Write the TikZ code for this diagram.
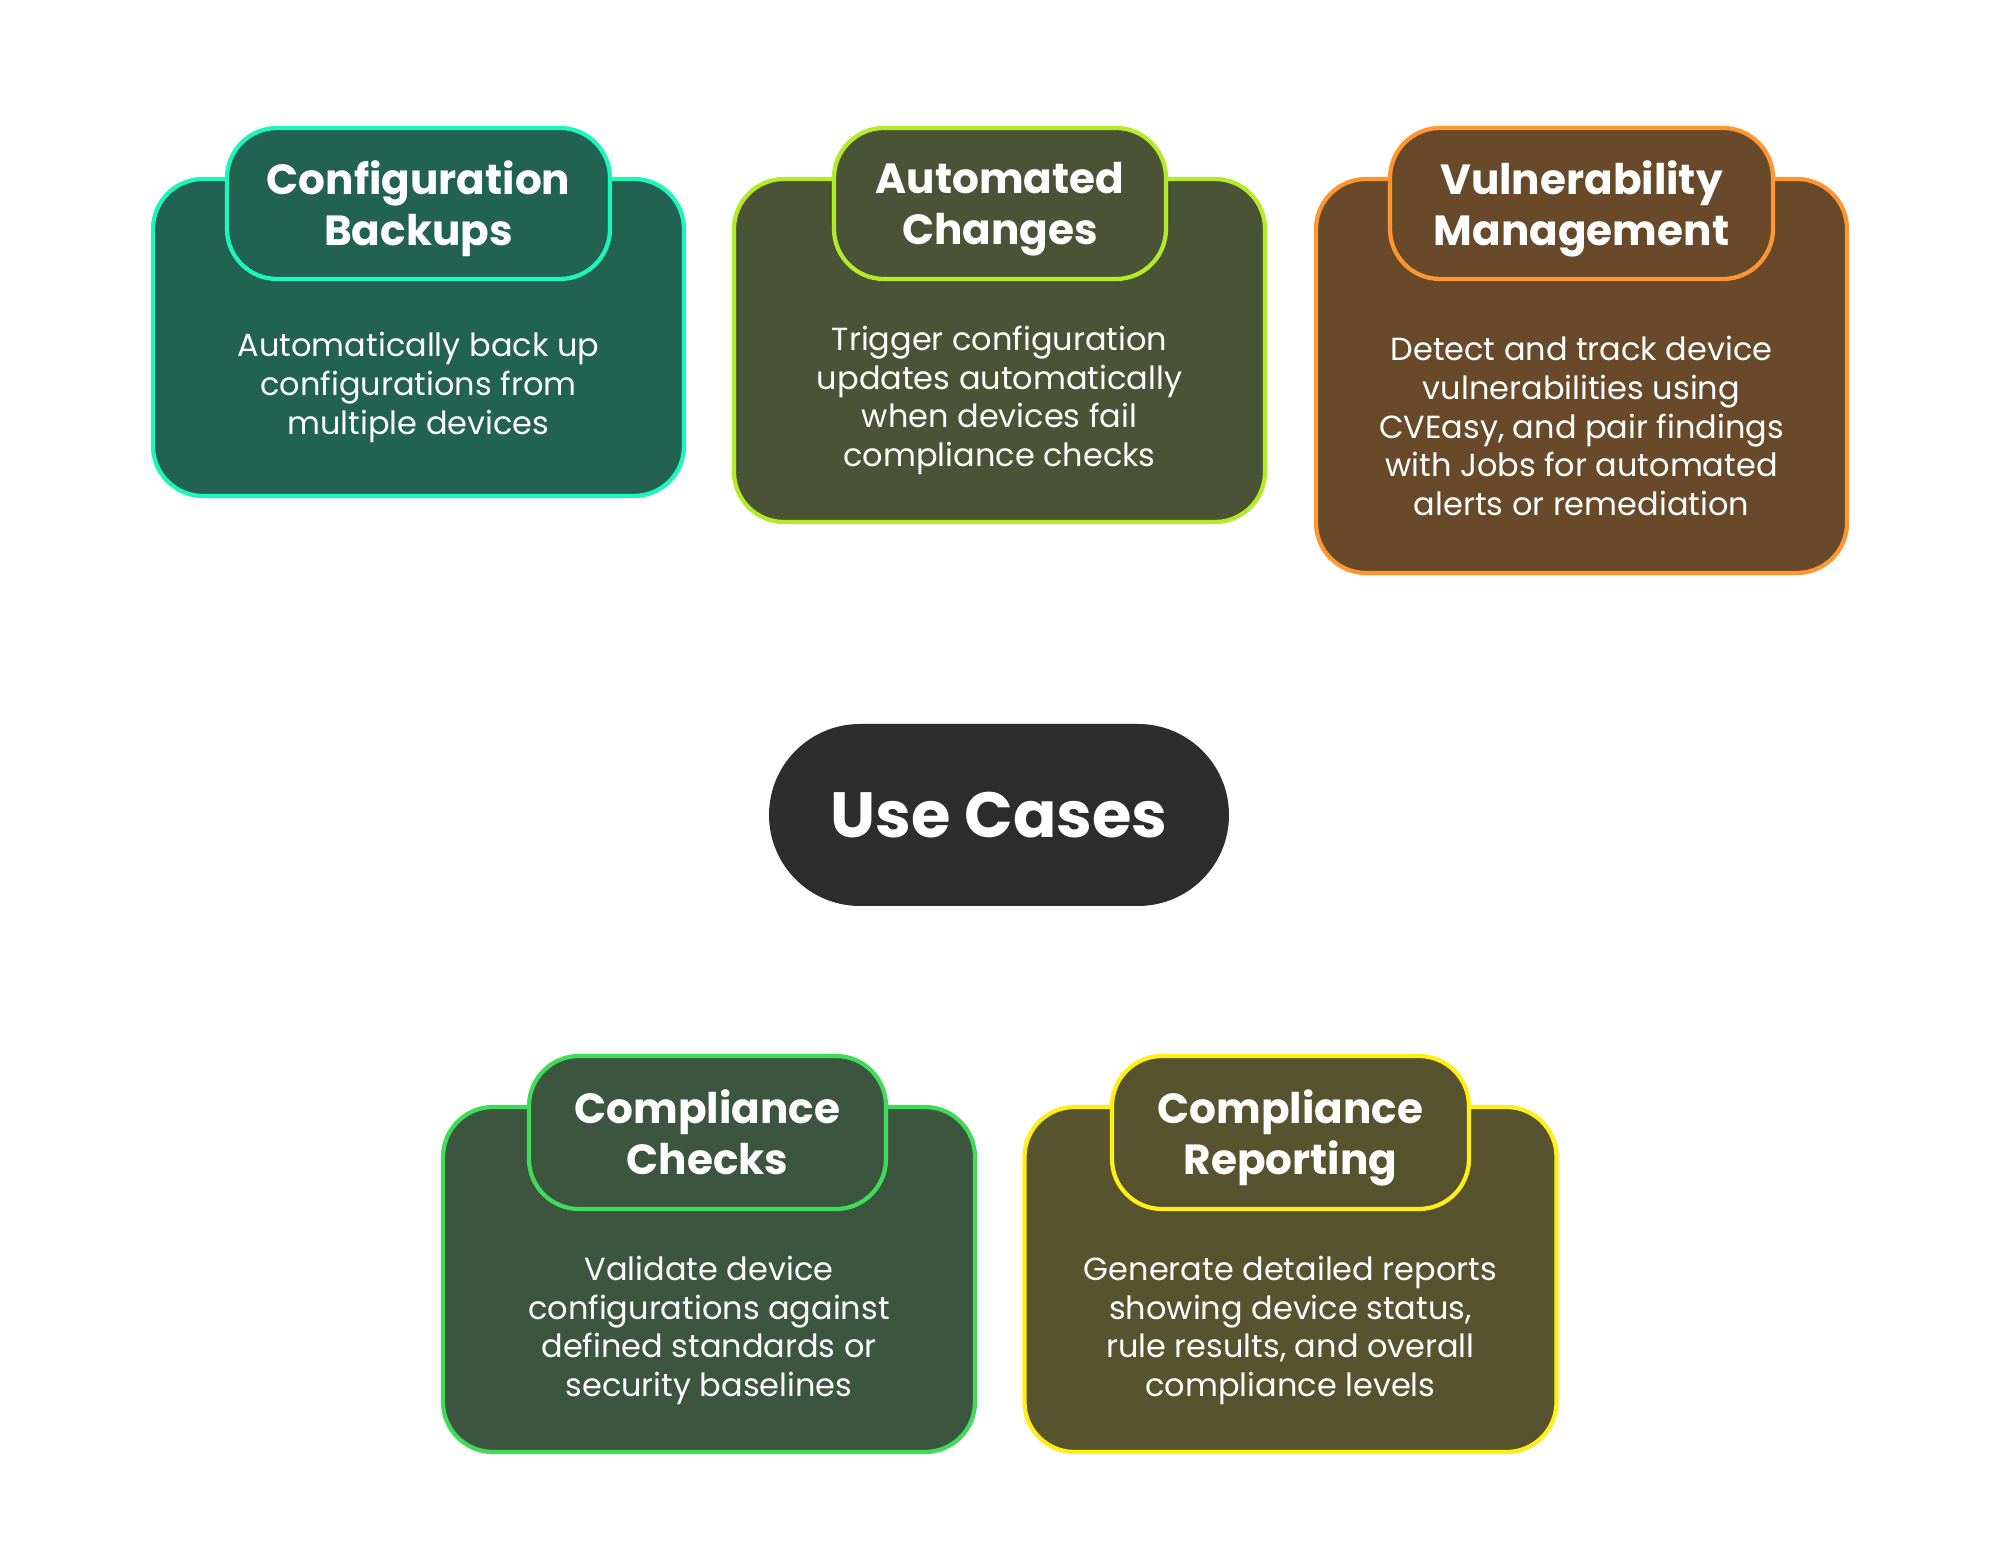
\documentclass[tikz,border=0pt]{standalone}
\usepackage{fontspec}
\setmainfont{Poppins}
\definecolor{backupfill}{HTML}{216350}
\definecolor{backupline}{HTML}{1CF5BC}
\definecolor{changefill}{HTML}{4B5337}
\definecolor{changeline}{HTML}{B2EB28}
\definecolor{vulnfill}{HTML}{684A2B}
\definecolor{vulnline}{HTML}{FF9632}
\definecolor{checkfill}{HTML}{3C553F}
\definecolor{checkline}{HTML}{3FDC5A}
\definecolor{reportfill}{HTML}{57532F}
\definecolor{reportline}{HTML}{FFEF14}
\definecolor{hubfill}{HTML}{2D2D2D}
\usetikzlibrary{positioning}

\begin{document}
\begin{tikzpicture}[
        card/.style={draw, line width=1.2pt, rounded corners=0.5cm, minimum width=5.31cm},
        head/.style={draw, line width=1.2pt, rounded corners=0.5cm, minimum height=1.51cm, align=center, text=white, font=\fontsize{12}{14.5}\selectfont\bfseries, text depth=-1.2pt},
        info/.style={align=center, text=white, font=\fontsize{9.1}{11}\selectfont}
      ]
        \useasboundingbox (0,0) rectangle (20,-15.54);

        % top row
        \node[card, fill=backupfill, draw=backupline, minimum height=3.17cm] (backup) at (4.185,-3.375) {};
        \node[head, fill=backupfill, draw=backupline, minimum width=3.83cm] (backuphead) at (4.185,-2.035) {Configuration\\Backups};
        \node[info] (backuptext) at (4.185,-3.875) {Automatically back up\\configurations from\\multiple devices};

        \node[card, fill=changefill, draw=changeline, minimum height=3.43cm] (change) at (9.995,-3.505) {};
        \node[head, fill=changefill, draw=changeline, minimum width=3.32cm] (changehead) at (10,-2.035) {Automated\\Changes};
        \node[info] (changetext) at (9.995,-4.005) {Trigger configuration\\updates automatically\\when devices fail\\compliance checks};

        \node[card, fill=vulnfill, draw=vulnline, minimum height=3.94cm] (vuln) at (15.815,-3.76) {};
        \node[head, fill=vulnfill, draw=vulnline, minimum width=3.83cm] (vulnhead) at (15.815,-2.035) {Vulnerability\\Management};
        \node[info] (vulntext) at (15.815,-4.26) {Detect and track device\\vulnerabilities using\\CVEasy, and pair findings\\with Jobs for automated\\alerts or remediation};

        % hub
        \node[fill=hubfill, rounded corners=0.91cm, minimum width=4.6cm, minimum height=1.82cm, text=white, font=\fontsize{18.2}{22}\selectfont\bfseries] (hub) at (9.99,-8.15) {Use Cases};

        % bottom row
        \node[card, fill=checkfill, draw=checkline, minimum width=5.32cm, minimum height=3.45cm] (check) at (7.09,-12.795) {};
        \node[head, fill=checkfill, draw=checkline, minimum width=3.57cm, minimum height=1.53cm] (checkhead) at (7.075,-11.325) {Compliance\\Checks};
        \node[info] (checktext) at (7.09,-13.305) {Validate device\\configurations against\\defined standards or\\security baselines};

        \node[card, fill=reportfill, draw=reportline, minimum width=5.32cm, minimum height=3.45cm] (report) at (12.905,-12.795) {};
        \node[head, fill=reportfill, draw=reportline, minimum width=3.57cm, minimum height=1.53cm] (reporthead) at (12.905,-11.325) {Compliance\\Reporting};
        \node[info] (reporttext) at (12.905,-13.305) {Generate detailed reports\\showing device status,\\rule results, and overall\\compliance levels};
      \end{tikzpicture}
\end{document}
